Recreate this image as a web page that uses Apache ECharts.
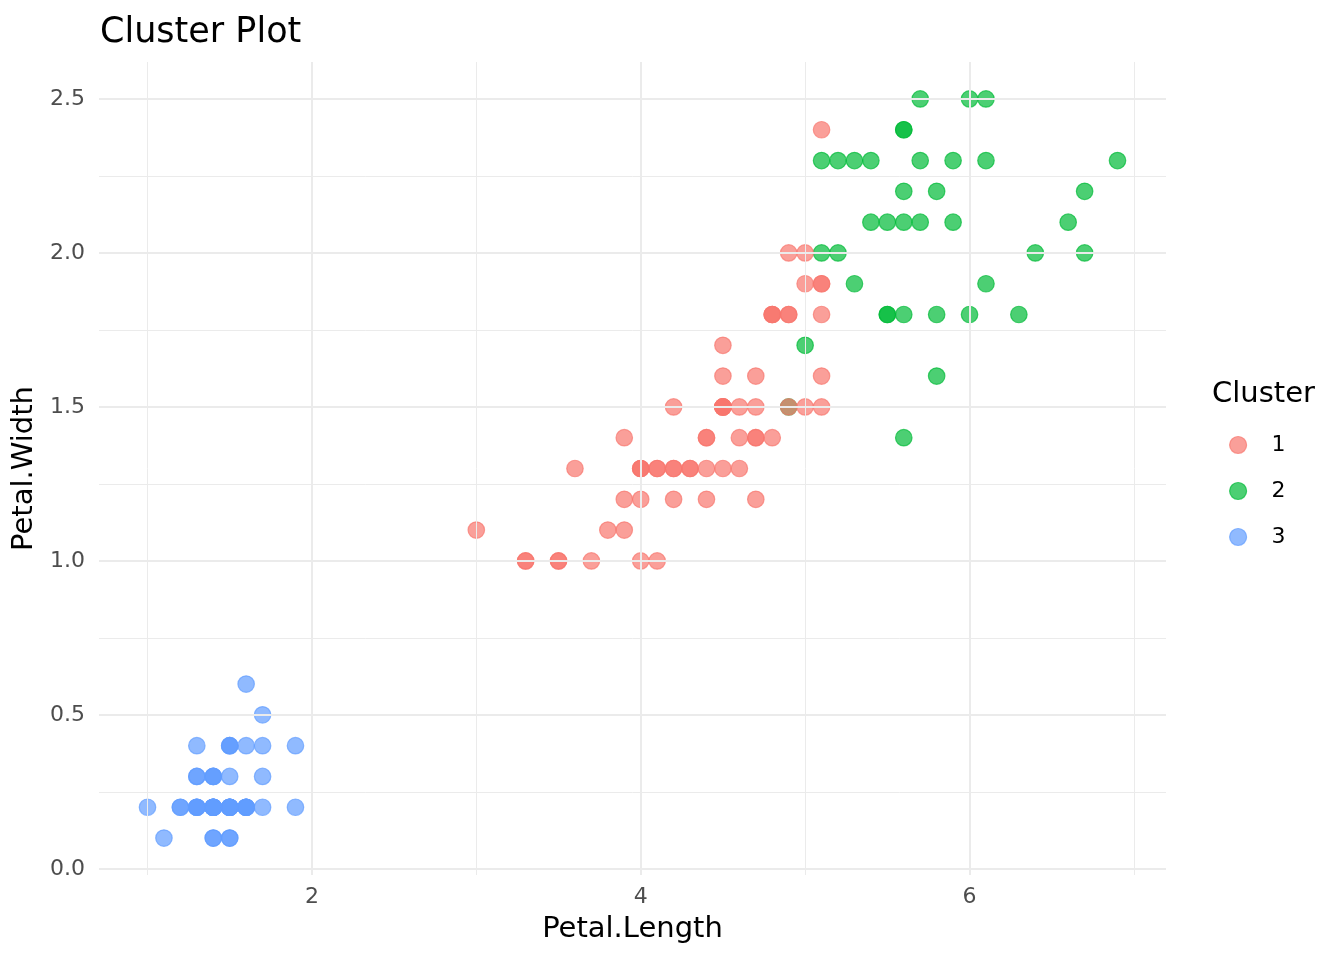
<!DOCTYPE html>
<html>
<head>
<meta charset="utf-8">
<script src="https://cdn.jsdelivr.net/npm/echarts@6/dist/echarts.min.js"></script>
<style>html,body{margin:0;padding:0;background:#fff}#c{width:1344px;height:960px}</style>
</head>
<body>
<div id="c"></div>
<script>
// Cluster 1 (red)
var c1Length = [4.7,4.5,4.0,4.6,4.5,4.7,3.3,4.6,3.9,3.5,4.2,4.0,4.7,3.6,4.4,4.5,4.1,4.5,3.9,4.8,4.0,4.9,4.7,4.3,4.4,4.8,4.5,3.5,3.8,3.7,3.9,5.1,4.5,4.5,4.7,4.4,4.1,4.0,4.4,4.6,4.0,3.3,4.2,4.2,4.2,4.3,3.0,4.1,
  5.1,4.5,5.0,5.1,5.0,4.9,4.9,4.8,4.9,5.1,4.8,5.1,5.0,5.1];
var c1Width = [1.4,1.5,1.3,1.5,1.3,1.6,1.0,1.3,1.4,1.0,1.5,1.0,1.4,1.3,1.4,1.5,1.0,1.5,1.1,1.8,1.3,1.5,1.2,1.3,1.4,1.4,1.5,1.0,1.1,1.0,1.2,1.6,1.5,1.6,1.5,1.3,1.3,1.3,1.2,1.4,1.2,1.0,1.3,1.2,1.3,1.3,1.1,1.3,
  1.9,1.7,2.0,2.4,1.5,2.0,1.8,1.8,1.8,1.5,1.8,1.9,1.9,1.8];
// Cluster 2 (green)
var c2Length = [4.9,5.0,6.0,5.9,5.6,5.8,6.6,6.3,5.8,6.1,5.1,5.3,5.5,5.3,5.5,6.7,6.9,5.7,6.7,5.7,6.0,5.6,5.8,6.1,6.4,5.6,5.6,6.1,5.6,5.5,5.4,5.6,5.1,5.9,5.7,5.2,5.2,5.4];
var c2Width = [1.5,1.7,2.5,2.1,1.8,2.2,2.1,1.8,1.8,2.5,2.0,1.9,2.1,2.3,1.8,2.2,2.3,2.3,2.0,2.1,1.8,2.1,1.6,1.9,2.0,2.2,1.4,2.3,2.4,1.8,2.1,2.4,2.3,2.3,2.5,2.3,2.0,2.3];
// Cluster 3 (blue)
var c3Length = [1.4,1.4,1.3,1.5,1.4,1.7,1.4,1.5,1.4,1.5,1.5,1.6,1.4,1.1,1.2,1.5,1.3,1.4,1.7,1.5,1.7,1.5,1.0,1.7,1.9,1.6,1.6,1.5,1.4,1.6,1.6,1.5,1.5,1.4,1.5,1.2,1.3,1.4,1.3,1.5,1.3,1.3,1.3,1.6,1.9,1.4,1.6,1.4,1.5,1.4];
var c3Width = [0.2,0.2,0.2,0.2,0.2,0.4,0.3,0.2,0.2,0.1,0.2,0.2,0.1,0.1,0.2,0.4,0.4,0.3,0.3,0.3,0.2,0.4,0.2,0.5,0.2,0.2,0.4,0.2,0.2,0.2,0.2,0.4,0.1,0.2,0.2,0.2,0.2,0.1,0.2,0.2,0.3,0.3,0.2,0.6,0.4,0.3,0.2,0.2,0.2,0.2];

var clusterNames = ['1','2','3'];
var xTicks = [2,4,6];
var xMinor = [1,3,5,7];
var yTicks = [0,0.5,1.0,1.5,2.0,2.5];
var yMinor = [0.25,0.75,1.25,1.75,2.25];

function pairs(a,b){ return a.map(function(v,i){ return [v,b[i]]; }); }
var colors = ['#F8766D','#00BA38','#619CFF'];
var zs = [4,3,3];
var sets = [pairs(c1Length,c1Width), pairs(c2Length,c2Width), pairs(c3Length,c3Width)];

var gridLines = [];
xTicks.forEach(function(v){ gridLines.push({xAxis:v, lineStyle:{width:2}}); });
xMinor.forEach(function(v){ gridLines.push({xAxis:v, lineStyle:{width:1}}); });
yTicks.forEach(function(v){ gridLines.push({yAxis:v, lineStyle:{width:2}}); });
yMinor.forEach(function(v){ gridLines.push({yAxis:v, lineStyle:{width:1}}); });

var font = 'DejaVu Sans';
var series = [{
  type:'scatter', data:[], z:1, silent:true,
  markLine:{silent:true, symbol:['none','none'], animation:false, label:{show:false},
    lineStyle:{color:'#ebebeb', type:'solid'}, emphasis:{disabled:true}, data:gridLines}
}];
clusterNames.forEach(function(n,i){
  series.push({
    name:n, type:'scatter', z:zs[i], data:sets[i], symbol:'circle', symbolSize:16.5,
    itemStyle:{color:colors[i], borderColor:colors[i], borderWidth:1.2, opacity:0.7}
  });
});

var chart = echarts.init(document.getElementById('c'));
chart.setOption({
  animation:false,
  backgroundColor:'#ffffff',
  textStyle:{fontFamily:font},
  title:[
    {text:'Cluster Plot', left:95, top:10, textStyle:{fontFamily:font, fontSize:35, fontWeight:'normal', color:'#000'}},
    {text:'Cluster', left:1207, top:375, textStyle:{fontFamily:font, fontSize:29, fontWeight:'normal', color:'#000'}}
  ],
  legend:{
    data:clusterNames.map(function(n,i){ return {name:n, icon:'circle', itemStyle:{color:colors[i], borderColor:colors[i], borderWidth:1.2, opacity:0.7}}; }),
    orient:'vertical', left:1224, top:429, itemWidth:17, itemHeight:17, itemGap:24,
    textStyle:{fontFamily:font, fontSize:22, color:'#000', padding:[0,0,0,20]}
  },
  grid:{left:99, right:178, top:62, bottom:85, containLabel:false},
  xAxis:{
    type:'value', min:0.705, max:7.195,
    name:'Petal.Length', nameLocation:'middle', nameGap:40,
    nameTextStyle:{fontFamily:font, fontSize:29, color:'#000'},
    axisLine:{show:false}, axisTick:{show:false}, splitLine:{show:false},
    axisLabel:{customValues:xTicks, fontFamily:font, fontSize:22, color:'#4d4d4d', margin:11}
  },
  yAxis:{
    type:'value', min:-0.02, max:2.62,
    name:'Petal.Width', nameLocation:'middle', nameGap:57,
    nameTextStyle:{fontFamily:font, fontSize:29, color:'#000'},
    axisLine:{show:false}, axisTick:{show:false}, splitLine:{show:false},
    axisLabel:{customValues:yTicks, fontFamily:font, fontSize:22, color:'#4d4d4d', margin:14,
      formatter:function(v){ return v.toFixed(1); }}
  },
  series:series
});
</script>
</body>
</html>
